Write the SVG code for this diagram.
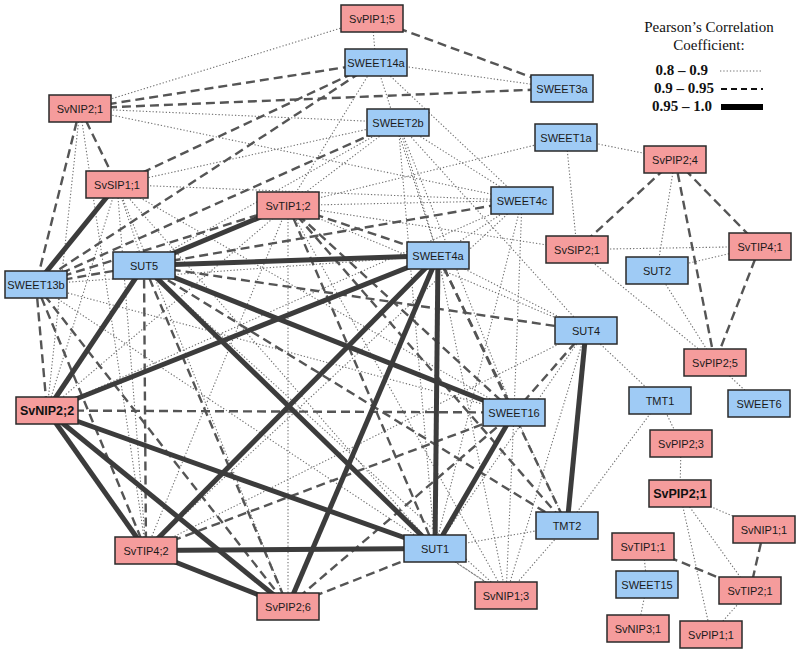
<svg xmlns="http://www.w3.org/2000/svg" width="800" height="651" viewBox="0 0 800 651">
<style>
.e1{stroke:#707070;stroke-width:1.1;stroke-dasharray:1.3,2;fill:none}
.e2{stroke:#555;stroke-width:2.4;stroke-dasharray:9,5;fill:none}
.e3{stroke:#3c3c3c;stroke-width:5;fill:none}
.r{fill:#F59C9C;stroke:#2a2a2a;stroke-width:1.5}
.b{fill:#9FCBF5;stroke:#2a2a2a;stroke-width:1.5}
.t{font-family:"Liberation Sans",Arial,sans-serif;font-size:11px;fill:#1a1a1a;text-anchor:middle}
.tb{font-family:"Liberation Sans",Arial,sans-serif;font-size:12.5px;font-weight:bold;fill:#111;text-anchor:middle}
.lg{font-family:"Liberation Serif","Times New Roman",serif;font-size:15px;fill:#111}
.lgb{font-family:"Liberation Serif","Times New Roman",serif;font-size:15px;font-weight:bold;fill:#111}
</style>
<rect width="800" height="651" fill="#fff"/>
<g id="connectors">
<g id="dotted">
<line class="e1" x1="372" y1="18.5" x2="376" y2="62.5"/>
<line class="e1" x1="372" y1="18.5" x2="80" y2="108.5"/>
<line class="e1" x1="376" y1="62.5" x2="562" y2="88.5"/>
<line class="e1" x1="376" y1="62.5" x2="288" y2="205.5"/>
<line class="e1" x1="376" y1="62.5" x2="522" y2="200.5"/>
<line class="e1" x1="376" y1="62.5" x2="438" y2="255.5"/>
<line class="e1" x1="80" y1="108.5" x2="398" y2="122.5"/>
<line class="e1" x1="80" y1="108.5" x2="522" y2="200.5"/>
<line class="e1" x1="80" y1="108.5" x2="47" y2="410.5"/>
<line class="e1" x1="80" y1="108.5" x2="146" y2="550.5"/>
<line class="e1" x1="398" y1="122.5" x2="117" y2="184.5"/>
<line class="e1" x1="398" y1="122.5" x2="522" y2="200.5"/>
<line class="e1" x1="398" y1="122.5" x2="438" y2="255.5"/>
<line class="e1" x1="398" y1="122.5" x2="288" y2="205.5"/>
<line class="e1" x1="398" y1="122.5" x2="144" y2="265.5"/>
<line class="e1" x1="398" y1="122.5" x2="514" y2="412.5"/>
<line class="e1" x1="398" y1="122.5" x2="435" y2="548.5"/>
<line class="e1" x1="398" y1="122.5" x2="586" y2="330.5"/>
<line class="e1" x1="566" y1="137.5" x2="288" y2="205.5"/>
<line class="e1" x1="566" y1="137.5" x2="675" y2="159.5"/>
<line class="e1" x1="566" y1="137.5" x2="577" y2="249.5"/>
<line class="e1" x1="117" y1="184.5" x2="522" y2="200.5"/>
<line class="e1" x1="117" y1="184.5" x2="144" y2="265.5"/>
<line class="e1" x1="117" y1="184.5" x2="47" y2="410.5"/>
<line class="e1" x1="117" y1="184.5" x2="146" y2="550.5"/>
<line class="e1" x1="117" y1="184.5" x2="288" y2="606.5"/>
<line class="e1" x1="117" y1="184.5" x2="435" y2="548.5"/>
<line class="e1" x1="117" y1="184.5" x2="514" y2="412.5"/>
<line class="e1" x1="288" y1="205.5" x2="522" y2="200.5"/>
<line class="e1" x1="288" y1="205.5" x2="577" y2="249.5"/>
<line class="e1" x1="288" y1="205.5" x2="47" y2="410.5"/>
<line class="e1" x1="288" y1="205.5" x2="146" y2="550.5"/>
<line class="e1" x1="288" y1="205.5" x2="288" y2="606.5"/>
<line class="e1" x1="288" y1="205.5" x2="506" y2="595.5"/>
<line class="e1" x1="288" y1="205.5" x2="586" y2="330.5"/>
<line class="e1" x1="522" y1="200.5" x2="438" y2="255.5"/>
<line class="e1" x1="522" y1="200.5" x2="146" y2="550.5"/>
<line class="e1" x1="522" y1="200.5" x2="47" y2="410.5"/>
<line class="e1" x1="522" y1="200.5" x2="435" y2="548.5"/>
<line class="e1" x1="522" y1="200.5" x2="514" y2="412.5"/>
<line class="e1" x1="438" y1="255.5" x2="586" y2="330.5"/>
<line class="e1" x1="438" y1="255.5" x2="506" y2="595.5"/>
<line class="e1" x1="36" y1="284.5" x2="438" y2="255.5"/>
<line class="e1" x1="36" y1="284.5" x2="514" y2="412.5"/>
<line class="e1" x1="36" y1="284.5" x2="506" y2="595.5"/>
<line class="e1" x1="144" y1="265.5" x2="506" y2="595.5"/>
<line class="e1" x1="586" y1="330.5" x2="506" y2="595.5"/>
<line class="e1" x1="586" y1="330.5" x2="435" y2="548.5"/>
<line class="e1" x1="586" y1="330.5" x2="146" y2="550.5"/>
<line class="e1" x1="586" y1="330.5" x2="660" y2="400.5"/>
<line class="e1" x1="514" y1="412.5" x2="506" y2="595.5"/>
<line class="e1" x1="514" y1="412.5" x2="567" y2="525.5"/>
<line class="e1" x1="506" y1="595.5" x2="435" y2="548.5"/>
<line class="e1" x1="506" y1="595.5" x2="567" y2="525.5"/>
<line class="e1" x1="567" y1="525.5" x2="435" y2="548.5"/>
<line class="e1" x1="567" y1="525.5" x2="660" y2="400.5"/>
<line class="e1" x1="675" y1="159.5" x2="657" y2="270.5"/>
<line class="e1" x1="577" y1="249.5" x2="760" y2="246.5"/>
<line class="e1" x1="577" y1="249.5" x2="715" y2="362.5"/>
<line class="e1" x1="657" y1="270.5" x2="760" y2="246.5"/>
<line class="e1" x1="657" y1="270.5" x2="715" y2="362.5"/>
<line class="e1" x1="715" y1="362.5" x2="759" y2="403.5"/>
<line class="e1" x1="660" y1="400.5" x2="681" y2="443.5"/>
<line class="e1" x1="681" y1="443.5" x2="680" y2="493.5"/>
<line class="e1" x1="680" y1="493.5" x2="764" y2="529.5"/>
<line class="e1" x1="680" y1="493.5" x2="750" y2="590.5"/>
<line class="e1" x1="680" y1="493.5" x2="711" y2="634.5"/>
<line class="e1" x1="643" y1="546.5" x2="647" y2="584.5"/>
<line class="e1" x1="647" y1="584.5" x2="638" y2="628.5"/>
<line class="e1" x1="750" y1="590.5" x2="711" y2="634.5"/>
</g>
<g id="dashed">
<line class="e2" x1="372" y1="18.5" x2="562" y2="88.5"/>
<line class="e2" x1="80" y1="108.5" x2="376" y2="62.5"/>
<line class="e2" x1="80" y1="108.5" x2="562" y2="88.5"/>
<line class="e2" x1="80" y1="108.5" x2="117" y2="184.5"/>
<line class="e2" x1="80" y1="108.5" x2="36" y2="284.5"/>
<line class="e2" x1="117" y1="184.5" x2="376" y2="62.5"/>
<line class="e2" x1="36" y1="284.5" x2="376" y2="62.5"/>
<line class="e2" x1="36" y1="284.5" x2="398" y2="122.5"/>
<line class="e2" x1="36" y1="284.5" x2="288" y2="205.5"/>
<line class="e2" x1="36" y1="284.5" x2="144" y2="265.5"/>
<line class="e2" x1="36" y1="284.5" x2="47" y2="410.5"/>
<line class="e2" x1="36" y1="284.5" x2="146" y2="550.5"/>
<line class="e2" x1="36" y1="284.5" x2="288" y2="606.5"/>
<line class="e2" x1="144" y1="265.5" x2="146" y2="550.5"/>
<line class="e2" x1="144" y1="265.5" x2="288" y2="606.5"/>
<line class="e2" x1="144" y1="265.5" x2="522" y2="200.5"/>
<line class="e2" x1="144" y1="265.5" x2="586" y2="330.5"/>
<line class="e2" x1="144" y1="265.5" x2="567" y2="525.5"/>
<line class="e2" x1="47" y1="410.5" x2="514" y2="412.5"/>
<line class="e2" x1="146" y1="550.5" x2="514" y2="412.5"/>
<line class="e2" x1="288" y1="606.5" x2="435" y2="548.5"/>
<line class="e2" x1="288" y1="606.5" x2="514" y2="412.5"/>
<line class="e2" x1="288" y1="205.5" x2="438" y2="255.5"/>
<line class="e2" x1="288" y1="205.5" x2="435" y2="548.5"/>
<line class="e2" x1="288" y1="205.5" x2="514" y2="412.5"/>
<line class="e2" x1="288" y1="205.5" x2="567" y2="525.5"/>
<line class="e2" x1="438" y1="255.5" x2="514" y2="412.5"/>
<line class="e2" x1="438" y1="255.5" x2="567" y2="525.5"/>
<line class="e2" x1="514" y1="412.5" x2="586" y2="330.5"/>
<line class="e2" x1="675" y1="159.5" x2="577" y2="249.5"/>
<line class="e2" x1="675" y1="159.5" x2="715" y2="362.5"/>
<line class="e2" x1="675" y1="159.5" x2="760" y2="246.5"/>
<line class="e2" x1="760" y1="246.5" x2="715" y2="362.5"/>
<line class="e2" x1="764" y1="529.5" x2="750" y2="590.5"/>
<line class="e2" x1="643" y1="546.5" x2="750" y2="590.5"/>
</g>
<g id="thick">
<line class="e3" x1="117" y1="184.5" x2="36" y2="284.5"/>
<line class="e3" x1="288" y1="205.5" x2="144" y2="265.5"/>
<line class="e3" x1="144" y1="265.5" x2="438" y2="255.5"/>
<line class="e3" x1="144" y1="265.5" x2="47" y2="410.5"/>
<line class="e3" x1="144" y1="265.5" x2="514" y2="412.5"/>
<line class="e3" x1="144" y1="265.5" x2="435" y2="548.5"/>
<line class="e3" x1="47" y1="410.5" x2="438" y2="255.5"/>
<line class="e3" x1="47" y1="410.5" x2="146" y2="550.5"/>
<line class="e3" x1="47" y1="410.5" x2="288" y2="606.5"/>
<line class="e3" x1="47" y1="410.5" x2="435" y2="548.5"/>
<line class="e3" x1="146" y1="550.5" x2="438" y2="255.5"/>
<line class="e3" x1="146" y1="550.5" x2="435" y2="548.5"/>
<line class="e3" x1="146" y1="550.5" x2="288" y2="606.5"/>
<line class="e3" x1="288" y1="606.5" x2="438" y2="255.5"/>
<line class="e3" x1="438" y1="255.5" x2="435" y2="548.5"/>
<line class="e3" x1="514" y1="412.5" x2="435" y2="548.5"/>
<line class="e3" x1="586" y1="330.5" x2="567" y2="525.5"/>
</g>
</g>
<g id="nodes">
<g id="SvPIP1_5"><rect class="r" x="341" y="5" width="62" height="27"/><text class="t" x="372" y="22.5">SvPIP1;5</text></g>
<g id="SWEET14a"><rect class="b" x="345" y="49" width="62" height="27"/><text class="t" x="376" y="66.5">SWEET14a</text></g>
<g id="SWEET3a"><rect class="b" x="531" y="75" width="62" height="27"/><text class="t" x="562" y="92.5">SWEET3a</text></g>
<g id="SvNIP2_1"><rect class="r" x="49" y="95" width="62" height="27"/><text class="t" x="80" y="112.5">SvNIP2;1</text></g>
<g id="SWEET2b"><rect class="b" x="367" y="109" width="62" height="27"/><text class="t" x="398" y="126.5">SWEET2b</text></g>
<g id="SWEET1a"><rect class="b" x="535" y="124" width="62" height="27"/><text class="t" x="566" y="141.5">SWEET1a</text></g>
<g id="SvPIP2_4"><rect class="r" x="644" y="146" width="62" height="27"/><text class="t" x="675" y="163.5">SvPIP2;4</text></g>
<g id="SvSIP1_1"><rect class="r" x="86" y="171" width="62" height="27"/><text class="t" x="117" y="188.5">SvSIP1;1</text></g>
<g id="SvTIP1_2"><rect class="r" x="257" y="192" width="62" height="27"/><text class="t" x="288" y="209.5">SvTIP1;2</text></g>
<g id="SWEET4c"><rect class="b" x="491" y="187" width="62" height="27"/><text class="t" x="522" y="204.5">SWEET4c</text></g>
<g id="SWEET4a"><rect class="b" x="407" y="242" width="62" height="27"/><text class="t" x="438" y="259.5">SWEET4a</text></g>
<g id="SvSIP2_1"><rect class="r" x="546" y="236" width="62" height="27"/><text class="t" x="577" y="253.5">SvSIP2;1</text></g>
<g id="SvTIP4_1"><rect class="r" x="729" y="233" width="62" height="27"/><text class="t" x="760" y="250.5">SvTIP4;1</text></g>
<g id="SUT2"><rect class="b" x="626" y="257" width="62" height="27"/><text class="t" x="657" y="274.5">SUT2</text></g>
<g id="SUT5"><rect class="b" x="113" y="252" width="62" height="27"/><text class="t" x="144" y="269.5">SUT5</text></g>
<g id="SWEET13b"><rect class="b" x="5" y="271" width="62" height="27"/><text class="t" x="36" y="288.5">SWEET13b</text></g>
<g id="SUT4"><rect class="b" x="555" y="317" width="62" height="27"/><text class="t" x="586" y="334.5">SUT4</text></g>
<g id="SvPIP2_5"><rect class="r" x="684" y="349" width="62" height="27"/><text class="t" x="715" y="366.5">SvPIP2;5</text></g>
<g id="SvNIP2_2"><rect class="r" x="16" y="397" width="62" height="27"/><text class="tb" x="47" y="415">SvNIP2;2</text></g>
<g id="SWEET16"><rect class="b" x="483" y="399" width="62" height="27"/><text class="t" x="514" y="416.5">SWEET16</text></g>
<g id="TMT1"><rect class="b" x="629" y="387" width="62" height="27"/><text class="t" x="660" y="404.5">TMT1</text></g>
<g id="SWEET6"><rect class="b" x="728" y="390" width="62" height="27"/><text class="t" x="759" y="407.5">SWEET6</text></g>
<g id="SvPIP2_3"><rect class="r" x="650" y="430" width="62" height="27"/><text class="t" x="681" y="447.5">SvPIP2;3</text></g>
<g id="SvPIP2_1"><rect class="r" x="649" y="480" width="62" height="27"/><text class="tb" x="680" y="498">SvPIP2;1</text></g>
<g id="TMT2"><rect class="b" x="536" y="512" width="62" height="27"/><text class="t" x="567" y="529.5">TMT2</text></g>
<g id="SvNIP1_1"><rect class="r" x="733" y="516" width="62" height="27"/><text class="t" x="764" y="533.5">SvNIP1;1</text></g>
<g id="SUT1"><rect class="b" x="404" y="535" width="62" height="27"/><text class="t" x="435" y="552.5">SUT1</text></g>
<g id="SvTIP4_2"><rect class="r" x="115" y="537" width="62" height="27"/><text class="t" x="146" y="554.5">SvTIP4;2</text></g>
<g id="SvTIP1_1"><rect class="r" x="612" y="533" width="62" height="27"/><text class="t" x="643" y="550.5">SvTIP1;1</text></g>
<g id="SWEET15"><rect class="b" x="616" y="571" width="62" height="27"/><text class="t" x="647" y="588.5">SWEET15</text></g>
<g id="SvTIP2_1"><rect class="r" x="719" y="577" width="62" height="27"/><text class="t" x="750" y="594.5">SvTIP2;1</text></g>
<g id="SvNIP1_3"><rect class="r" x="475" y="582" width="62" height="27"/><text class="t" x="506" y="599.5">SvNIP1;3</text></g>
<g id="SvPIP2_6"><rect class="r" x="257" y="593" width="62" height="27"/><text class="t" x="288" y="610.5">SvPIP2;6</text></g>
<g id="SvNIP3_1"><rect class="r" x="607" y="615" width="62" height="27"/><text class="t" x="638" y="632.5">SvNIP3;1</text></g>
<g id="SvPIP1_1"><rect class="r" x="680" y="621" width="62" height="27"/><text class="t" x="711" y="638.5">SvPIP1;1</text></g>
</g>
<g id="legend">
<text class="lg" x="709" y="32" text-anchor="middle">Pearson’s Correlation</text>
<text class="lg" x="709" y="50" text-anchor="middle">Coefficient:</text>
<text class="lgb" x="708" y="75" text-anchor="end">0.8 – 0.9</text>
<text class="lgb" x="714" y="93" text-anchor="end">0.9 – 0.95</text>
<text class="lgb" x="712" y="111" text-anchor="end">0.95 – 1.0</text>
<line class="e1" x1="720" y1="71" x2="762" y2="71"/>
<line x1="721" y1="89" x2="763" y2="89" stroke="#111" stroke-width="2" stroke-dasharray="6,4"/>
<line x1="721" y1="107" x2="763" y2="107" stroke="#000" stroke-width="6"/>
</g>
</svg>
